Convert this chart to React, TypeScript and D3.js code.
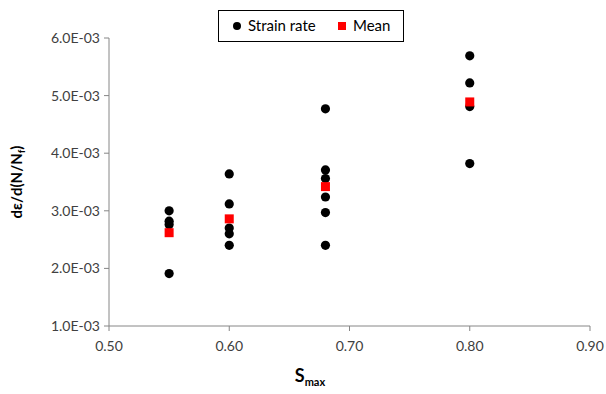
import React from "react";
import * as d3 from "d3";

const xTicks = [0.5, 0.6, 0.7, 0.8, 0.9];
const yTicks = [0.001, 0.002, 0.003, 0.004, 0.005, 0.006];

const strainS = [0.55, 0.55, 0.55, 0.55, 0.6, 0.6, 0.6, 0.6, 0.6, 0.68, 0.68, 0.68, 0.68, 0.68, 0.68, 0.8, 0.8, 0.8, 0.8];
const strainRate = [0.0030, 0.00282, 0.00276, 0.00191, 0.00364, 0.00312, 0.00270, 0.00260, 0.00240, 0.00477, 0.00371, 0.00356, 0.00324, 0.00297, 0.00240, 0.00569, 0.00522, 0.00481, 0.00382];

const meanS = [0.55, 0.6, 0.68, 0.8];
const meanRate = [0.00262, 0.00286, 0.00342, 0.00489];

const W = 606;
const H = 394;
const left = 109;
const right = 590;
const top = 38;
const bottom = 326;

const font = "Lato, 'Open Sans', sans-serif";

export default function App() {
  const x = d3.scaleLinear().domain([0.5, 0.9]).range([left, right]);
  const y = d3.scaleLinear().domain([0.001, 0.006]).range([bottom, top]);
  const axisColor = "#868686";
  const textColor = "#404040";
  return (
    <svg width={W} height={H} style={{ position: "absolute", left: 0, top: 0, background: "#fff" }}>
      <rect x={0} y={0} width={W} height={H} fill="#fff" />
      {/* y axis */}
      <line x1={left} x2={left} y1={top} y2={bottom} stroke={axisColor} strokeWidth={1} />
      {yTicks.map((t) => (
        <g key={"y" + t}>
          <line x1={left - 5} x2={left} y1={y(t)} y2={y(t)} stroke={axisColor} />
          <text x={left - 9} y={y(t)} dy="0.35em" textAnchor="end" fontSize={14} fontFamily={font} fill={textColor}>
            {(t * 1000).toFixed(1) + "E-03"}
          </text>
        </g>
      ))}
      {/* x axis */}
      <line x1={left} x2={right} y1={bottom} y2={bottom} stroke={axisColor} strokeWidth={1} />
      {xTicks.map((t) => (
        <g key={"x" + t}>
          <line x1={x(t)} x2={x(t)} y1={bottom} y2={bottom + 5} stroke={axisColor} />
          <text x={x(t)} y={bottom + 25} textAnchor="middle" fontSize={14} fontFamily={font} fill={textColor}>
            {t.toFixed(2)}
          </text>
        </g>
      ))}
      {/* axis titles */}
      <text x={310} y={382} textAnchor="middle" fontSize={18} fontWeight="bold" fontFamily={font} fill="#000">
        S<tspan fontSize={11} dy={4}>max</tspan>
      </text>
      <text transform={`translate(22,${(top + bottom) / 2}) rotate(-90)`} textAnchor="middle" fontSize={15} fontWeight="bold" fontFamily={font} fill="#000">
        dε/d(N/N<tspan fontSize={10} dy={3}>f</tspan><tspan dy={-3}>)</tspan>
      </text>
      {/* points */}
      {strainS.map((s, i) => (
        <circle key={"p" + i} cx={x(s)} cy={y(strainRate[i])} r={4.6} fill="#000" />
      ))}
      {meanS.map((s, i) => (
        <rect key={"m" + i} x={x(s) - 4.5} y={y(meanRate[i]) - 4.5} width={9} height={9} fill="#ff0000" />
      ))}
      {/* legend */}
      <rect x={218.5} y={10.5} width={185} height={31} fill="#fff" stroke="#000" strokeWidth={1} />
      <circle cx={237} cy={26} r={4} fill="#000" />
      <text x={248} y={26} dy="0.35em" fontSize={15} fontFamily={font} fill="#000">Strain rate</text>
      <rect x={338} y={22} width={8} height={8} fill="#ff0000" />
      <text x={353} y={26} dy="0.35em" fontSize={15} fontFamily={font} fill="#000">Mean</text>
    </svg>
  );
}
